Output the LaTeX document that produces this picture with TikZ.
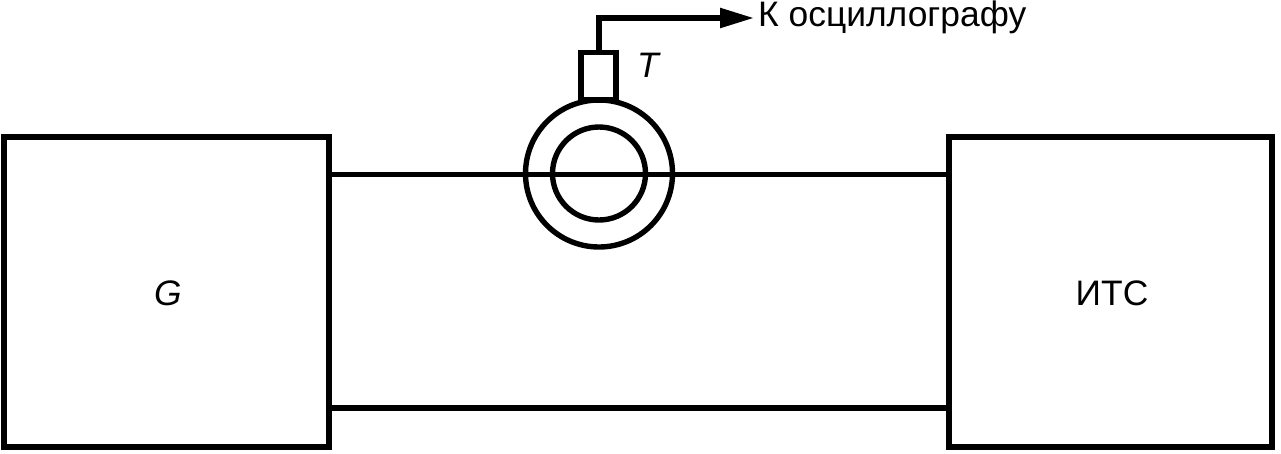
\documentclass[tikz,border=0pt]{standalone}
\usepackage{fontspec}
\setmainfont{Liberation Sans}
\usetikzlibrary{arrows.meta}
\tikzset{ln/.style={line width=5.4pt,black},
lab/.style={font=\fontsize{35.4pt}{40pt}\selectfont,inner sep=0}}
\begin{document}
\begin{tikzpicture}[x=1pt,y=-1pt,line join=miter]
\useasboundingbox (0,0) rectangle (1281,453);
\coordinate (g1) at (4,137); \coordinate (g2) at (329,447);
\coordinate (i1) at (949,137); \coordinate (i2) at (1272,447);
\draw[ln] (g1) rectangle (g2);
\draw[ln] (i1) rectangle (i2);
\coordinate (gt) at (329,174.5); \coordinate (it) at (949,174.5);
\coordinate (gb) at (329,408); \coordinate (ib) at (949,408);
\draw[ln] (gb) -- (ib);
\draw[ln] (gt) -- (it);
\coordinate (c) at (599,173.5);
\draw[ln] (c) circle (73.5);
\draw[ln] (c) circle (46.5);
\draw[ln] (581,100) rectangle (616,52.5);
\coordinate (tt) at (599,52.5); \coordinate (tc) at (599,18); \coordinate (te) at (754,18);
\draw[ln,-{Triangle[length=34pt,width=19pt]}] (tt) -- (tc) -- (te);
\node[lab,anchor=west] (osc) at (758,17) {К осциллографу};
\node[lab] (tl) at (648,65) {\itshape T};
\node[lab] (gl) at (168,293) {\itshape G};
\node[lab] (il) at (1112,293) {ИТС};
\end{tikzpicture}
\end{document}
